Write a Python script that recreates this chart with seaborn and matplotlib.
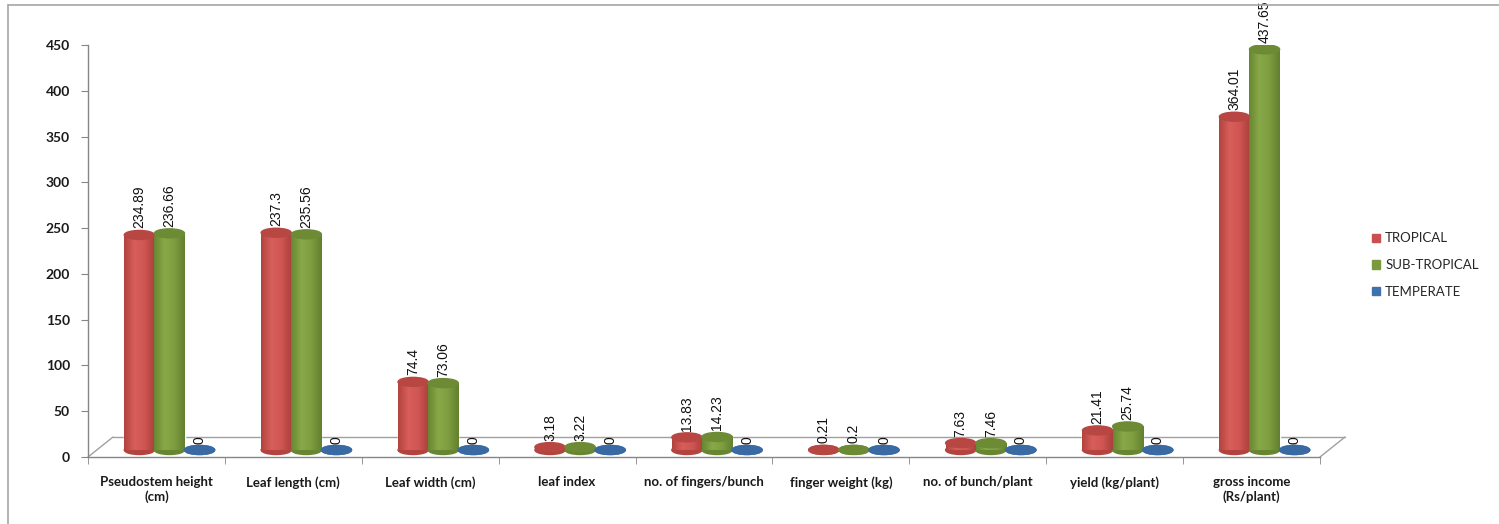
import matplotlib.pyplot as plt
import matplotlib.transforms as mtransforms
from matplotlib.colors import LinearSegmentedColormap
from matplotlib.lines import Line2D
from matplotlib.patches import Ellipse, Patch
import numpy as np
import pandas as pd
import seaborn as sns

traits = ["Pseudostem height\n(cm)", "Leaf length (cm)", "Leaf width (cm)", "leaf index",
          "no. of fingers/bunch", "finger weight (kg)", "no. of bunch/plant",
          "yield (kg/plant)", "gross income\n(Rs/plant)"]
zones = ["TROPICAL", "SUB-TROPICAL", "TEMPERATE"]
tropical = [234.89, 237.3, 74.4, 3.18, 13.83, 0.21, 7.63, 21.41, 364.01]
sub_tropical = [236.66, 235.56, 73.06, 3.22, 14.23, 0.2, 7.46, 25.74, 437.65]
temperate = [0, 0, 0, 0, 0, 0, 0, 0, 0]
y_ticks = [0, 50, 100, 150, 200, 250, 300, 350, 400, 450]

colors = {"TROPICAL": "#c9504e", "SUB-TROPICAL": "#7a9a3e", "TEMPERATE": "#3f72ad"}
# cylinder shading: edge, highlight, mid, edge
shades = {"TROPICAL": ["#b2433f", "#d75e5a", "#cf5653", "#ab3f3c"],
          "SUB-TROPICAL": ["#688631", "#88a948", "#7e9d40", "#62802e"],
          "TEMPERATE": ["#315d92", "#4f84c2", "#4275b2", "#2f598c"]}
caps = {"TROPICAL": "#b84744", "SUB-TROPICAL": "#6d8b35", "TEMPERATE": "#3a6aa4"}

df = pd.DataFrame({"trait": traits * 3,
                   "zone": np.repeat(zones, len(traits)),
                   "value": tropical + sub_tropical + temperate})

sns.set_style("white")
plt.rcParams["font.family"] = ["Lato", "DejaVu Sans"]

fig = plt.figure(figsize=(14.99, 5.24), dpi=100)
ax = fig.add_axes([88 / 1499, 67 / 524, 1232 / 1499, 412 / 524])
sns.barplot(data=df, x="trait", y="value", hue="zone", palette=colors,
            width=0.66, saturation=1, ax=ax)
ax.get_legend().remove()
ax.set_xlim(-0.5, 8.5)
ax.set_ylim(0, 450)

# 3D look: bars sit back in the floor
shift = mtransforms.offset_copy(ax.transData, fig=fig, x=13, y=7, units="dots")
cap_px = 9
cap_h = cap_px * 450 / ax.bbox.height
lab_shift = mtransforms.offset_copy(ax.transData, fig=fig, x=13, y=7 + cap_px / 2 + 2, units="dots")

for bars, zone in zip(ax.containers, zones):
    cmap = LinearSegmentedColormap.from_list(zone, shades[zone])
    for bar in bars:
        bar.set_transform(shift)
        x0, w, h = bar.get_x(), bar.get_width(), bar.get_height()
        cx = x0 + w / 2
        ax.add_patch(Ellipse((cx, 0), w, cap_h, color=shades[zone][0], transform=shift, zorder=1.5))
        if h > 0:
            ax.imshow(np.linspace(0, 1, 64)[None, :], cmap=cmap, extent=[x0, x0 + w, 0, h],
                      aspect="auto", transform=shift, zorder=2, interpolation="bilinear")
        ax.add_patch(Ellipse((cx, h), w, cap_h, color=caps[zone], transform=shift, zorder=3))
        ax.text(cx, h, f"{h:g}", transform=lab_shift, rotation=90, ha="center", va="bottom",
                fontsize=10, family="Liberation Sans", color="#111111", zorder=4)

ax.set_xlim(-0.5, 8.5)
ax.set_ylim(0, 450)

# floor of the 3D plot
gray = "#a0a0a0"
dx, dy = 25 / ax.bbox.width, 20 / ax.bbox.height
ax.plot([dx, 1 + dx], [dy, dy], transform=ax.transAxes, color=gray, lw=1, clip_on=False, zorder=0.5)
ax.plot([0, dx], [0, dy], transform=ax.transAxes, color=gray, lw=1, clip_on=False, zorder=0.5)
ax.plot([1, 1 + dx], [0, dy], transform=ax.transAxes, color=gray, lw=1, clip_on=False, zorder=0.5)

sns.despine(ax=ax)
for s in ("left", "bottom"):
    ax.spines[s].set_color("#868686")
    ax.spines[s].set_linewidth(1)

ax.set_xlabel("")
ax.set_ylabel("")
ax.set_yticks(y_ticks)
ax.set_yticklabels([str(t) for t in y_ticks], fontsize=10, fontweight="bold", color="#1a1a1a")
ax.tick_params(axis="y", left=True, length=5, color="#868686", pad=8)
ax.set_xticks(range(len(traits)))
ax.set_xticklabels(traits, fontsize=9.5, fontweight="bold", color="#1a1a1a")
ax.set_xticks(np.arange(-0.5, len(traits), 1), minor=True)
ax.tick_params(axis="x", which="major", length=0, pad=14)
ax.tick_params(axis="x", which="minor", bottom=True, length=5, color="#868686")

handles = [Patch(color=colors[z]) for z in zones]
fig.legend(handles, zones, loc="center left", bbox_to_anchor=(1360 / 1499, 1 - 265 / 524),
           frameon=False, handlelength=0.6, handleheight=0.6, handletextpad=0.4,
           labelspacing=1.1, prop={"size": 9.5})

# chart area border
fig.add_artist(Line2D([8 / 1499, 1], [1 - 5 / 524] * 2, transform=fig.transFigure, color="#a6a6a6", lw=1.2))
fig.add_artist(Line2D([8 / 1499] * 2, [0, 1 - 5 / 524], transform=fig.transFigure, color="#a6a6a6", lw=1.2))

fig.savefig("out.png", dpi=100)
